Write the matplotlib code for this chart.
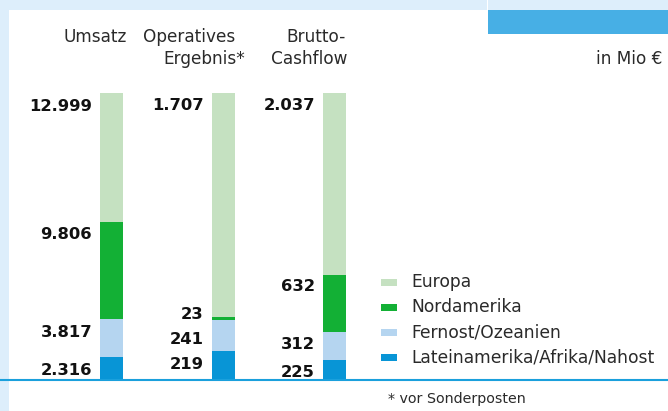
import matplotlib
matplotlib.use("Agg")
import matplotlib.pyplot as plt
from matplotlib.patches import Rectangle
from matplotlib.lines import Line2D

# ---------------- data ----------------
categories = ["Umsatz", "Operatives Ergebnis*", "Brutto-Cashflow"]
regions = ["Europa", "Nordamerika", "Fernost/Ozeanien", "Lateinamerika/Afrika/Nahost"]
latein = [2316, 219, 225]
fernost = [3817, 241, 312]
nordamerika = [9806, 23, 632]
europa = [12999, 1707, 2037]
unit_text = "in Mio €"
footnote = "* vor Sonderposten"

# ---------------- style ----------------
c_europa = "#c5e1c1"
c_nord = "#13b035"
c_fern = "#b5d5f0"
c_lat = "#0895d6"
c_band = "#ddeefb"
c_box = "#47afe5"
c_line = "#1aa0dc"

W, H = 668, 411
fig = plt.figure(figsize=(W / 100, H / 100), dpi=100)
fig.patch.set_facecolor("white")

def fx(px):
    return px / W

def fy(py):
    return 1 - py / H

def frect(x0, y0, x1, y1, color):
    fig.patches.append(Rectangle((fx(x0), fy(y1)), fx(x1) - fx(x0), fy(y0) - fy(y1),
                                 transform=fig.transFigure, facecolor=color,
                                 edgecolor="none", zorder=0))

# frame decorations
frect(0, 0, W, 10, c_band)
frect(0, 0, 9, H, c_band)
frect(488, 10, W, 34, c_box)
frect(487, 0, 488, 34, "white")
fig.lines.append(Line2D([0, 1], [fy(380), fy(380)], transform=fig.transFigure,
                        color=c_line, lw=1.5, zorder=1))

# ---------------- bars ----------------
bar_top_px, bar_bot_px = 93, 380
ax = fig.add_axes([0, fy(bar_bot_px), 1, (bar_bot_px - bar_top_px) / H])
unit_px = 111.5
ax.set_xlim(-1, (W - unit_px) / unit_px)
ax.set_ylim(0, 1)
ax.axis("off")

bar_w = 23 / unit_px
series = [latein, fernost, nordamerika, europa]
colors = [c_lat, c_fern, c_nord, c_europa]
totals = [sum(v) for v in zip(*series)]
x = list(range(len(categories)))

num_font = dict(family="DejaVu Sans", weight="bold", size=11.8)
pt = 72 / 100  # px -> points
# per-label vertical nudges (px) to avoid overlap: [series][bar]
nudge = [[0, 0, 0], [0, 7, 0], [0, -15, -2], [0, 0, 0]]

bottoms = [0.0] * len(x)
for s, (vals, col) in enumerate(zip(series, colors)):
    frac = [v / t for v, t in zip(vals, totals)]
    ax.bar(x, frac, width=bar_w, bottom=bottoms, color=col, linewidth=0)
    for i, v in enumerate(vals):
        top = bottoms[i] + frac[i]
        lab = f"{v:,}".replace(",", ".")
        ax.annotate(lab, xy=(x[i] - bar_w / 2, top),
                    xytext=(-8 * pt, -(17.5 + nudge[s][i]) * pt),
                    textcoords="offset points", ha="right", va="baseline",
                    color="#111111", **num_font)
    bottoms = [b + f for b, f in zip(bottoms, frac)]

# ---------------- header texts ----------------
hdr = dict(family="DejaVu Sans", size=12.2, color="#2a2a2a")
fig.text(fx(127), fy(42), "Umsatz", ha="right", va="baseline", **hdr)
fig.text(fx(235), fy(42), "Operatives", ha="right", va="baseline", **hdr)
fig.text(fx(245), fy(64), "Ergebnis*", ha="right", va="baseline", **hdr)
fig.text(fx(346), fy(42), "Brutto-", ha="right", va="baseline", **hdr)
fig.text(fx(347), fy(64), "Cashflow", ha="right", va="baseline", **hdr)
fig.text(fx(662), fy(64), unit_text, ha="right", va="baseline", **hdr)

# ---------------- legend ----------------
leg_font = dict(family="DejaVu Sans", size=12.3, color="#2a2a2a")
leg_colors = [c_europa, c_nord, c_fern, c_lat]
for k, (name, col) in enumerate(zip(regions, leg_colors)):
    yc = 282 + 25 * k
    frect(381, yc - 3.5, 397, yc + 3.5, col)
    fig.text(fx(411), fy(yc), name, ha="left", va="center", **leg_font)

fig.text(fx(388), fy(399), footnote, ha="left", va="center",
         family="DejaVu Sans", size=10.3, color="#2a2a2a")

fig.savefig("out.png", dpi=100, facecolor="white")
